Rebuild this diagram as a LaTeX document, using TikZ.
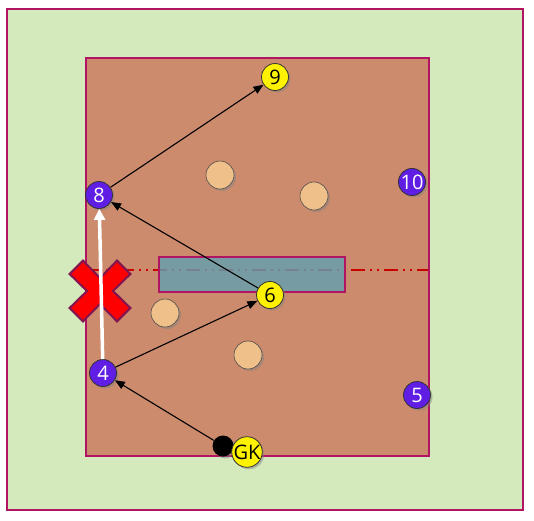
\documentclass[tikz,border=0pt]{standalone}
\usepackage{fontspec}
\setmainfont{Open Sans}
\usetikzlibrary{shadows,arrows.meta}
\definecolor{bg}{RGB}{213,234,188}
\definecolor{pitch}{RGB}{205,139,109}
\definecolor{crim}{RGB}{178,20,100}
\definecolor{zoneblue}{RGB}{101,159,176}
\definecolor{linered}{RGB}{200,0,0}
\definecolor{purp}{RGB}{96,30,228}
\definecolor{conec}{RGB}{240,192,138}
\definecolor{xborder}{RGB}{130,20,80}
\begin{document}
\begin{tikzpicture}[x=1pt,y=-1pt,
  shad/.style={drop shadow={shadow xshift=2pt,shadow yshift=-2pt,opacity=0.45}},
  purple player/.style={circle,draw=black!80,line width=0.8pt,fill=purp,text=white,minimum size=27pt,inner sep=0pt,font=\fontsize{20}{20}\selectfont,shad},
  yellow player/.style={circle,draw=black!80,line width=0.8pt,fill=yellow,text=black,minimum size=27pt,inner sep=0pt,font=\fontsize{20}{20}\selectfont,shad},
  cone/.style={circle,draw=black!70,line width=0.6pt,fill=conec,minimum size=28pt,inner sep=0pt,shad},
  ball/.style={circle,fill=black,minimum size=21pt,inner sep=0pt,shad},
  pass/.style={draw=black,line width=1.1pt,-{Triangle[length=10pt,width=8pt]}},
  run/.style={draw=white,line width=3.5pt,-{Triangle[length=11pt,width=11pt]}}
]
\useasboundingbox (0,0) rectangle (534,520);
\fill[white] (0,0) rectangle (534,520);
\draw[crim,line width=2.5pt,fill=bg] (7,9) rectangle (523,510);
\draw[crim,line width=2pt,fill=pitch] (86,58) rectangle (429,456);
\draw[linered,line width=2pt,dash pattern=on 14pt off 5pt on 2pt off 5pt on 2pt off 5pt] (87,270) -- (428,270);
\draw[crim,line width=1.5pt,fill=zoneblue,fill opacity=0.82] (159,257) rectangle (345,292);
% cones
\node[cone] (c1) at (220,175) {};
\node[cone] (c2) at (314,196) {};
\node[cone] (c3) at (165,313) {};
\node[cone] (c4) at (248,355) {};
% red X
\draw[xborder,fill=red,line width=2pt,line join=miter,shift={(100,291)}]
  (30.4,-17) -- (13,0) -- (30.4,17) -- (17,30.4) -- (0,13) -- (-17,30.4)
  -- (-30.4,17) -- (-13,0) -- (-30.4,-17) -- (-17,-30.4) -- (0,-13) -- (17,-30.4) -- cycle;
% players
\node[yellow player] (p9) at (275,77) {9};
\node[purple player] (p8) at (99,195) {8};
\node[purple player] (p10) at (412,182) {10};
\node[yellow player] (p6) at (270,295) {6};
\node[purple player] (p4) at (103,373) {4};
\node[purple player] (p5) at (417,395) {5};
\node[ball] (b) at (223,446) {};
\node[yellow player] (gk) at (247,452) {GK};
% passes
\draw[pass] (p8) -- (p9);
\draw[pass] (p6) -- (p8);
\draw[pass] (p4) -- (p6);
\draw[pass] (b) -- (p4);
\draw[run] (p4) -- (p8);
\end{tikzpicture}
\end{document}
